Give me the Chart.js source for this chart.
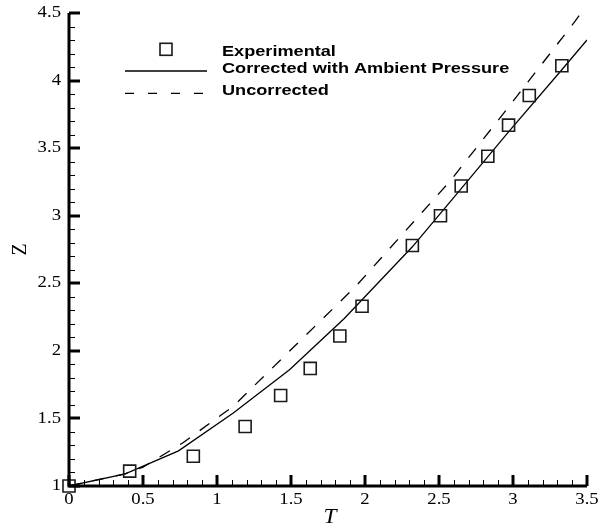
<!DOCTYPE html>
<html><head><meta charset="utf-8">
<script src="https://cdn.jsdelivr.net/npm/chart.js@4/dist/chart.umd.min.js"></script>
<style>html,body{margin:0;padding:0;background:#fff}</style>
</head><body>
<canvas id="c" width="602" height="531"></canvas>
<script>
// ---- data ----
const expT = [0, 0.41, 0.84, 1.19, 1.43, 1.63, 1.83, 1.98, 2.32, 2.51, 2.65, 2.83, 2.97, 3.11, 3.33];
const expZ = [1.0, 1.11, 1.22, 1.44, 1.67, 1.87, 2.11, 2.33, 2.78, 3.0, 3.22, 3.44, 3.67, 3.89, 4.11];
const corrT = [0, 0.38, 0.74, 1.11, 1.49, 1.86, 2.32, 2.65, 2.97, 3.33, 3.5];
const corrZ = [1.0, 1.09, 1.26, 1.54, 1.86, 2.24, 2.77, 3.2, 3.62, 4.08, 4.30];
const uncT = [0, 0.38, 0.5, 0.77, 1.11, 1.52, 1.94, 2.57, 2.96, 3.42, 3.5];
const uncZ = [1.0, 1.09, 1.14, 1.32, 1.59, 2.03, 2.48, 3.25, 3.79, 4.44, 4.56];
const xTickVals = [0, 0.5, 1, 1.5, 2, 2.5, 3, 3.5];
const xTickLabels = ['0', '0.5', '1', '1.5', '2', '2.5', '3', '3.5'];
const yTickVals = [1, 1.5, 2, 2.5, 3, 3.5, 4, 4.5];
const yTickLabels = ['1', '1.5', '2', '2.5', '3', '3.5', '4', '4.5'];
const seriesNames = ['Experimental', 'Corrected with Ambient Pressure', 'Uncorrected'];
const xTitle = 'T';
const yTitle = 'Z';

const SX = 1.17; // horizontal text stretch seen in the reference
function sText(ctx, text, x, y, align, baseline) {
  ctx.save();
  ctx.translate(x, y);
  ctx.scale(SX, 1);
  ctx.textAlign = align;
  ctx.textBaseline = baseline || 'middle';
  ctx.fillText(text, 0, 0);
  ctx.restore();
}

const tecAxes = {
  id: 'tecAxes',
  afterDatasetsDraw(chart) {
    const { ctx, chartArea: a, scales: { x, y } } = chart;
    ctx.save();
    ctx.strokeStyle = '#000';
    ctx.fillStyle = '#000';
    // minor ticks (0.1 spacing)
    ctx.lineWidth = 1;
    const xMin = x.min, xMax = x.max, yMin = y.min, yMax = y.max;
    const nx = Math.round((xMax - xMin) * 10), ny = Math.round((yMax - yMin) * 10);
    for (let i = 1; i < nx; i++) {
      if (i % 5 === 0) continue;
      const px = Math.round(x.getPixelForValue(xMin + i / 10)) + 0.5;
      ctx.beginPath(); ctx.moveTo(px, a.bottom); ctx.lineTo(px, a.bottom - 6); ctx.stroke();
    }
    for (let i = 1; i < ny; i++) {
      if (i % 5 === 0) continue;
      const py = Math.round(y.getPixelForValue(yMin + i / 10)) + 0.5;
      ctx.beginPath(); ctx.moveTo(a.left, py); ctx.lineTo(a.left + 6, py); ctx.stroke();
    }
    // major ticks
    ctx.lineWidth = 3;
    xTickVals.forEach(v => {
      const px = Math.round(x.getPixelForValue(v));
      ctx.beginPath(); ctx.moveTo(px, a.bottom); ctx.lineTo(px, a.bottom - 11); ctx.stroke();
    });
    yTickVals.forEach(v => {
      const py = Math.round(y.getPixelForValue(v));
      ctx.beginPath(); ctx.moveTo(a.left, py); ctx.lineTo(a.left + 11, py); ctx.stroke();
    });
    // axis lines
    ctx.lineWidth = 3;
    ctx.beginPath();
    ctx.moveTo(a.left, a.top);
    ctx.lineTo(a.left, a.bottom);
    ctx.lineTo(a.right, a.bottom);
    ctx.stroke();
    // tick labels
    ctx.font = '16px "Liberation Serif", "Times New Roman", serif';
    xTickVals.forEach((v, i) => sText(ctx, xTickLabels[i], x.getPixelForValue(v), a.bottom + 14, 'center'));
    yTickVals.forEach((v, i) => sText(ctx, yTickLabels[i], a.left - 8, y.getPixelForValue(v), 'right'));
    // axis titles
    ctx.font = 'italic 20px "Liberation Serif", "Times New Roman", serif';
    sText(ctx, xTitle, (a.left + a.right) / 2 + 2, a.bottom + 32, 'center');
    ctx.save();
    ctx.translate(21, (a.top + a.bottom) / 2);
    ctx.rotate(-Math.PI / 2);
    ctx.font = '20px "Liberation Serif", "Times New Roman", serif';
    ctx.textAlign = 'center'; ctx.textBaseline = 'middle';
    ctx.fillText(yTitle, 0, 0);
    ctx.restore();
    // legend
    const ds = chart.data.datasets;
    const symL = 125, symR = 207, txtX = 222;
    const rows = [{ sy: 49.3, ty: 56 }, { sy: 71, ty: 73.3 }, { sy: 93.3, ty: 95 }];
    ctx.font = 'bold 15.5px "Liberation Sans", Arial, sans-serif';
    ds.forEach((d, i) => {
      const r = rows[i];
      ctx.save();
      ctx.strokeStyle = d.borderColor;
      ctx.lineWidth = d.borderWidth;
      if (d.showLine === false) {
        const s = 12, cx = (symL + symR) / 2;
        ctx.strokeRect(cx - s / 2, r.sy - s / 2, s, s);
      } else {
        ctx.setLineDash(d.borderDash && d.borderDash.length ? [9, 14] : []);
        ctx.beginPath(); ctx.moveTo(symL, r.sy); ctx.lineTo(symR, r.sy); ctx.stroke();
      }
      ctx.restore();
      sText(ctx, d.label, txtX, r.ty, 'left', 'alphabetic');
    });
    ctx.restore();
  }
};

const toPts = (xs, ys) => xs.map((v, i) => ({ x: v, y: ys[i] }));

new Chart(document.getElementById('c'), {
  type: 'scatter',
  data: {
    datasets: [
      {
        label: seriesNames[0], data: toPts(expT, expZ), showLine: false,
        pointStyle: 'rect', pointRadius: 8.5, pointHoverRadius: 8.5,
        borderColor: '#1a1a1a', backgroundColor: 'rgba(0,0,0,0)', borderWidth: 1.6, clip: false
      },
      {
        label: seriesNames[1], data: toPts(corrT, corrZ), showLine: true,
        pointRadius: 0, borderColor: '#000', borderWidth: 1.3, tension: 0, fill: false
      },
      {
        label: seriesNames[2], data: toPts(uncT, uncZ), showLine: true,
        pointRadius: 0, borderColor: '#000', borderWidth: 1.3, borderDash: [12, 12], tension: 0, fill: false
      }
    ]
  },
  options: {
    responsive: false,
    animation: false,
    devicePixelRatio: 1,
    layout: { padding: { left: 69, right: 15, top: 13, bottom: 45 } },
    scales: {
      x: { type: 'linear', min: 0, max: 3.5, display: false },
      y: { type: 'linear', min: 1, max: 4.5, display: false }
    },
    plugins: { legend: { display: false }, tooltip: { enabled: false } }
  },
  plugins: [tecAxes]
});
</script>
</body></html>
